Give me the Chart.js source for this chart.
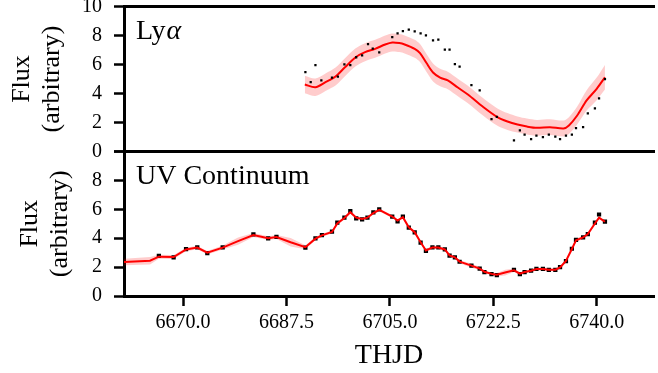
<!DOCTYPE html>
<html>
<head>
<meta charset="utf-8">
<script src="https://cdn.jsdelivr.net/npm/chart.js@4.4.1/dist/chart.umd.min.js"></script>
<style>
  html, body { margin: 0; padding: 0; background: #fff; }
  #wrap { position: relative; width: 658px; height: 373px; }
  #wrap canvas { position: absolute; left: 0; top: 0; }
</style>
</head>
<body>
<div id="wrap">
  <canvas id="lyaChart" width="658" height="373"></canvas>
  <canvas id="uvChart" width="658" height="373"></canvas>
</div>
<script>
// tick labels
const xTicks = [6670.0, 6687.5, 6705.0, 6722.5, 6740.0];
const yTicks = [0, 2, 4, 6, 8, 10];

// Ly-alpha observations (black dots)
const lyaX = [6690.7, 6691.6, 6692.4, 6693.4, 6695.2, 6696.2, 6697.3, 6698.3, 6699.3, 6700.3, 6701.3, 6702.1, 6703.2, 6705.4, 6706.3, 6707.2, 6708.2, 6709.2, 6710.2, 6711.1, 6712.3, 6713.2, 6714.3, 6715.1, 6716.0, 6716.8, 6718.8, 6720.2, 6722.2, 6723.1, 6726.0, 6727.0, 6727.8, 6728.9, 6729.8, 6730.9, 6731.9, 6733.0, 6733.8, 6734.8, 6735.8, 6736.5, 6737.7, 6738.5, 6739.7, 6740.4, 6741.4];
const lyaY = [5.47, 4.78, 5.95, 4.90, 5.10, 5.17, 6.01, 5.95, 6.50, 6.63, 7.40, 7.10, 6.84, 7.88, 8.15, 8.30, 8.41, 8.29, 8.15, 8.01, 7.66, 7.72, 7.03, 7.03, 6.02, 5.86, 4.57, 4.22, 2.24, 2.38, 0.76, 1.45, 1.17, 0.85, 1.10, 0.99, 1.17, 1.03, 0.85, 1.10, 1.17, 1.61, 1.68, 2.63, 2.98, 3.67, 4.99];

// Ly-alpha model (red line) and its 1-sigma band
const lyaModelX = [6690.6, 6692.4, 6694.1, 6695.8, 6697.4, 6699.2, 6700.8, 6702.5, 6704.2, 6705.4, 6706.6, 6707.5, 6709.2, 6710.1, 6711.2, 6712.3, 6713.5, 6714.8, 6716.5, 6718.2, 6720.7, 6723.2, 6724.9, 6726.6, 6728.2, 6729.9, 6732.1, 6734.4, 6735.3, 6736.7, 6738.3, 6740.0, 6741.4];
const lyaModelY = [4.62, 4.43, 4.78, 5.17, 5.81, 6.50, 6.85, 7.08, 7.38, 7.52, 7.48, 7.38, 7.08, 6.79, 6.10, 5.45, 5.10, 4.90, 4.41, 3.93, 3.10, 2.37, 2.07, 1.86, 1.72, 1.63, 1.68, 1.59, 1.79, 2.48, 3.52, 4.32, 5.12];
const lyaModelErr = [0.6, 0.6, 0.6, 0.62, 0.62, 0.62, 0.62, 0.62, 0.62, 0.62, 0.62, 0.62, 0.62, 0.62, 0.62, 0.62, 0.6, 0.6, 0.6, 0.6, 0.6, 0.6, 0.58, 0.55, 0.55, 0.55, 0.55, 0.55, 0.58, 0.62, 0.7, 0.78, 0.85];

// UV continuum observations (black squares)
const uvX = [6665.9, 6668.4, 6670.5, 6672.4, 6674.1, 6676.7, 6681.9, 6684.4, 6685.8, 6690.7, 6692.4, 6693.5, 6695.2, 6696.1, 6697.3, 6698.3, 6699.3, 6700.3, 6701.2, 6702.2, 6703.2, 6705.4, 6706.3, 6707.2, 6708.2, 6709.2, 6710.2, 6711.1, 6712.2, 6713.2, 6714.3, 6715.1, 6716.0, 6716.8, 6718.8, 6720.2, 6721.0, 6722.2, 6723.1, 6726.0, 6727.0, 6727.8, 6728.9, 6729.8, 6730.9, 6731.9, 6733.0, 6733.8, 6734.8, 6735.8, 6736.5, 6737.7, 6738.5, 6739.7, 6740.4, 6741.4];
const uvY = [2.77, 2.68, 3.25, 3.37, 2.96, 3.37, 4.27, 3.99, 4.10, 3.34, 3.99, 4.22, 4.45, 5.07, 5.42, 5.88, 5.38, 5.31, 5.42, 5.78, 6.00, 5.49, 5.17, 5.49, 4.73, 4.41, 3.69, 3.13, 3.37, 3.37, 3.23, 2.79, 2.68, 2.37, 2.10, 1.89, 1.66, 1.52, 1.45, 1.80, 1.52, 1.66, 1.75, 1.87, 1.87, 1.80, 1.80, 1.99, 2.42, 3.27, 3.88, 4.06, 4.29, 5.07, 5.64, 5.14];

// UV model (red line) and band
const uvModelX = [6660.0, 6664.4, 6665.9, 6668.4, 6670.5, 6672.4, 6674.1, 6676.7, 6679.3, 6681.9, 6684.4, 6685.8, 6688.2, 6690.7, 6692.4, 6693.5, 6695.2, 6696.1, 6697.3, 6698.3, 6699.3, 6700.3, 6701.2, 6702.2, 6703.2, 6705.4, 6706.3, 6707.2, 6708.2, 6709.2, 6710.2, 6711.1, 6712.2, 6713.2, 6714.3, 6715.1, 6716.0, 6716.8, 6718.8, 6720.2, 6721.0, 6722.2, 6723.1, 6724.5, 6726.0, 6727.0, 6727.8, 6728.9, 6729.8, 6730.9, 6731.9, 6733.0, 6733.8, 6734.8, 6735.8, 6736.5, 6737.7, 6738.5, 6739.7, 6740.4, 6741.4];
const uvModelY = [2.35, 2.44, 2.72, 2.70, 3.22, 3.35, 3.00, 3.35, 3.80, 4.22, 4.00, 4.08, 3.72, 3.38, 3.97, 4.20, 4.43, 5.02, 5.40, 5.80, 5.42, 5.33, 5.42, 5.74, 5.96, 5.50, 5.22, 5.45, 4.76, 4.42, 3.72, 3.15, 3.36, 3.36, 3.22, 2.81, 2.68, 2.38, 2.10, 1.90, 1.68, 1.53, 1.47, 1.62, 1.78, 1.55, 1.66, 1.75, 1.86, 1.86, 1.81, 1.81, 1.98, 2.42, 3.25, 3.86, 4.05, 4.28, 5.02, 5.42, 5.14];
const uvModelErr = [0.22, 0.26, 0.14, 0.14, 0.12, 0.12, 0.12, 0.14, 0.25, 0.14, 0.13, 0.14, 0.3, 0.14, 0.12, 0.1, 0.1, 0.1, 0.1, 0.1, 0.1, 0.1, 0.1, 0.1, 0.1, 0.1, 0.1, 0.1, 0.1, 0.1, 0.1, 0.1, 0.1, 0.1, 0.1, 0.1, 0.1, 0.12, 0.14, 0.12, 0.1, 0.1, 0.12, 0.2, 0.12, 0.1, 0.1, 0.1, 0.1, 0.1, 0.1, 0.1, 0.1, 0.1, 0.1, 0.1, 0.12, 0.1, 0.1, 0.1, 0.1];

const FONT = "'Liberation Serif', serif";
const AXIS_LEFT = 124;
const X_MIN = 6660, X_MAX = 6749.7;

const pts = (xs, ys) => xs.map((x, i) => ({ x, y: ys[i] }));
const shift = (xs, ys, es, sign) => xs.map((x, i) => ({ x, y: ys[i] + sign * es[i] }));

const panelLabel = {
  id: 'panelLabel',
  afterDatasetsDraw(chart, args, opts) {
    const { ctx, chartArea } = chart;
    ctx.save();
    ctx.fillStyle = '#000';
    ctx.textBaseline = 'alphabetic';
    ctx.font = '28px ' + FONT;
    let x = chartArea.left + 12;
    const y = chartArea.top + 32;
    ctx.fillText(opts.text, x, y);
    if (opts.greek) {
      x += ctx.measureText(opts.text).width + 1;
      ctx.font = 'italic 28px ' + FONT;
      ctx.fillText(opts.greek, x, y);
    }
    ctx.restore();
  }
};

function yScale(showTen, titlePad) {
  return {
    type: 'linear', min: 0, max: 10,
    afterBuildTicks: s => { s.ticks = yTicks.map(v => ({ value: v })); },
    afterFit: s => { s.width = AXIS_LEFT; s.paddingTop = 0; s.paddingBottom = 0; },
    border: { color: '#000', width: 3 },
    grid: { drawOnChartArea: false, tickLength: 10, tickWidth: 2.5, tickColor: '#000' },
    ticks: {
      color: '#000', padding: 12, font: { family: FONT, size: 20 },
      callback: v => (v === 10 && !showTen) ? '' : String(v)
    },
    title: {
      display: true, text: ['Flux', '(arbitrary)'], color: '#000',
      font: { family: FONT, size: 26, lineHeight: 1.15 }, padding: { top: titlePad, bottom: 0 }
    }
  };
}

const topSpine = {
  type: 'linear', position: 'top', min: X_MIN, max: X_MAX,
  afterFit: s => { s.height = 0; s.paddingLeft = 0; s.paddingRight = 0; },
  border: { color: '#000', width: 3 },
  grid: { drawOnChartArea: false, drawTicks: false },
  ticks: { display: false }
};

const bandStyle = { borderWidth: 0, pointRadius: 0, tension: 0.3 };

new Chart(document.getElementById('lyaChart'), {
  type: 'line',
  data: {
    datasets: [
      { ...bandStyle, data: shift(lyaModelX, lyaModelY, lyaModelErr, -1), fill: false, order: 3 },
      { ...bandStyle, data: shift(lyaModelX, lyaModelY, lyaModelErr, 1), fill: '-1', backgroundColor: 'rgba(255,0,0,0.2)', order: 3 },
      { data: pts(lyaModelX, lyaModelY), borderColor: '#ff0000', borderWidth: 2, pointRadius: 0, tension: 0.3, fill: false, order: 1 },
      { data: pts(lyaX, lyaY), showLine: false, pointStyle: 'rect', pointRadius: 1.6, backgroundColor: '#000', borderWidth: 0, order: 0 }
    ]
  },
  options: {
    responsive: false, animation: false,
    layout: { padding: { top: 6.5, bottom: 373 - 151.5, left: 0, right: 0 } },
    scales: {
      x: { type: 'linear', display: false, min: X_MIN, max: X_MAX },
      xTop: topSpine,
      y: yScale(true, 7)
    },
    plugins: { legend: { display: false }, tooltip: { enabled: false }, panelLabel: { text: 'Ly', greek: 'α' } }
  },
  plugins: [panelLabel]
});

new Chart(document.getElementById('uvChart'), {
  type: 'line',
  data: {
    datasets: [
      { ...bandStyle, tension: 0, data: shift(uvModelX, uvModelY, uvModelErr, -1), fill: false, order: 3 },
      { ...bandStyle, tension: 0, data: shift(uvModelX, uvModelY, uvModelErr, 1), fill: '-1', backgroundColor: 'rgba(255,0,0,0.2)', order: 3 },
      { data: pts(uvX, uvY), showLine: false, pointStyle: 'rect', pointRadius: 3, backgroundColor: '#000', borderWidth: 0, order: 2 },
      { data: pts(uvModelX, uvModelY), borderColor: '#ff0000', borderWidth: 2, pointRadius: 0, tension: 0, fill: false, order: 1 }
    ]
  },
  options: {
    responsive: false, animation: false,
    layout: { padding: { top: 151.5, bottom: 0, left: 0, right: 0 } },
    scales: {
      x: {
        type: 'linear', position: 'bottom', min: X_MIN, max: X_MAX,
        afterBuildTicks: s => { s.ticks = xTicks.map(v => ({ value: v })); },
        afterFit: s => { s.height = 373 - 296; s.paddingLeft = 0; s.paddingRight = 0; },
        border: { color: '#000', width: 3 },
        grid: { drawOnChartArea: false, tickLength: 10, tickWidth: 2.5, tickColor: '#000' },
        ticks: { color: '#000', padding: 5, maxRotation: 0, font: { family: FONT, size: 20 }, callback: v => v.toFixed(1) },
        title: { display: true, text: 'THJD', color: '#000', font: { family: FONT, size: 28 }, padding: { top: 0, bottom: 1 } }
      },
      xTop: topSpine,
      y: yScale(false, 15)
    },
    plugins: { legend: { display: false }, tooltip: { enabled: false }, panelLabel: { text: 'UV Continuum' } }
  },
  plugins: [panelLabel]
});
</script>
</body>
</html>
